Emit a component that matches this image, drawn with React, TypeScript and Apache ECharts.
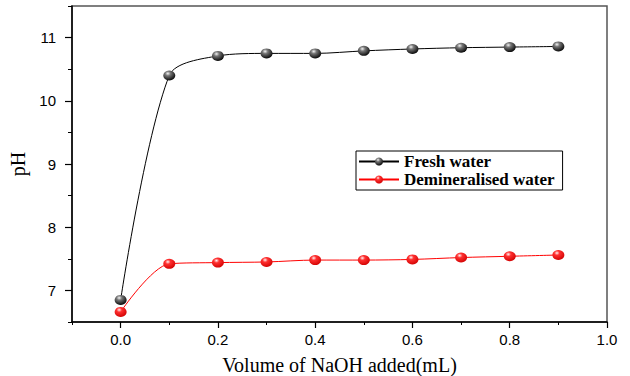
import React, { useEffect, useRef } from "react";
import * as echarts from "echarts";

// NaOH volume added (mL)
const volumes = [0.0, 0.1, 0.2, 0.3, 0.4, 0.5, 0.6, 0.7, 0.8, 0.9];
// pH readings
const freshWater = [6.85, 10.4, 10.71, 10.75, 10.75, 10.79, 10.82, 10.84, 10.85, 10.86];
const demineralisedWater = [6.66, 7.42, 7.44, 7.45, 7.48, 7.48, 7.49, 7.52, 7.54, 7.56];

const xMajorTicks = [0.0, 0.2, 0.4, 0.6, 0.8, 1.0];
const yMajorTicks = [7, 8, 9, 10, 11];

const seriesNames = ["Fresh water", "Demineralised water"];

const sphere = (light: string, mid: string, dark: string) =>
  new echarts.graphic.RadialGradient(0.38, 0.3, 0.75, [
    { offset: 0, color: light },
    { offset: 0.3, color: mid },
    { offset: 1, color: dark },
  ]);

export default function App() {
  const ref = useRef<HTMLDivElement>(null);

  useEffect(() => {
    if (!ref.current) return;
    const chart = echarts.init(ref.current, null, { renderer: "svg" });
    const tickFont = { fontFamily: "Liberation Sans", fontSize: 15, color: "#000" };

    chart.setOption({
      animation: false,
      backgroundColor: "#fff",
      grid: {
        left: 72,
        right: 23,
        top: 6,
        bottom: 54,
        outerBoundsMode: "none",
        containLabel: false,
        show: true,
        borderColor: "#555",
        borderWidth: 1.5,
      },
      legend: {
        orient: "vertical",
        left: 356,
        top: 151,
        itemGap: 1,
        itemWidth: 40,
        itemHeight: 10,
        padding: [2, 8, 2, 2],
        borderColor: "#000",
        borderWidth: 1,
        textStyle: {
          fontFamily: "Liberation Serif",
          fontWeight: "bold",
          fontSize: 17,
          color: "#000",
        },
        data: seriesNames,
      },
      xAxis: [
        {
          type: "value",
          min: -0.1,
          max: 1.0,
          name: "Volume of NaOH added(mL)",
          nameLocation: "middle",
          nameGap: 33,
          nameTextStyle: { fontFamily: "Liberation Serif", fontSize: 20, color: "#000" },
          axisLine: { onZero: false, lineStyle: { color: "#000", width: 1.5 } },
          axisTick: { customValues: xMajorTicks, length: 6, lineStyle: { color: "#000", width: 1.2 } },
          axisLabel: {
            customValues: xMajorTicks,
            margin: 10,
            formatter: (v: number) => v.toFixed(1),
            ...tickFont,
          },
          splitLine: { show: false },
        },
        {
          type: "value",
          min: -0.1,
          max: 1.0,
          interval: 0.1,
          position: "bottom",
          axisLine: { show: false, onZero: false },
          axisTick: { length: 3, lineStyle: { color: "#000", width: 1 } },
          axisLabel: { show: false },
          splitLine: { show: false },
        },
      ],
      yAxis: [
        {
          type: "value",
          min: 6.5,
          max: 11.5,
          name: "pH",
          nameLocation: "middle",
          nameGap: 39,
          nameTextStyle: { fontFamily: "Liberation Serif", fontSize: 20, color: "#000" },
          axisLine: { onZero: false, lineStyle: { color: "#000", width: 1.5 } },
          axisTick: { customValues: yMajorTicks, length: 7, lineStyle: { color: "#000", width: 1.2 } },
          axisLabel: {
            customValues: yMajorTicks,
            margin: 16,
            ...tickFont,
          },
          splitLine: { show: false },
        },
        {
          type: "value",
          min: 6.5,
          max: 11.5,
          interval: 0.5,
          position: "left",
          axisLine: { show: false, onZero: false },
          axisTick: { length: 4, lineStyle: { color: "#000", width: 1 } },
          axisLabel: { show: false },
          splitLine: { show: false },
        },
      ],
      series: [
        {
          name: seriesNames[0],
          type: "line",
          smooth: 0.3,
          data: volumes.map((v, i) => [v, freshWater[i]]),
          lineStyle: { color: "#000", width: 1 },
          symbol: "circle",
          symbolSize: [12, 10],
          itemStyle: { color: sphere("#f4f4f4", "#777", "#000"), borderWidth: 0 },
          z: 3,
        },
        {
          name: seriesNames[1],
          type: "line",
          smooth: 0.3,
          data: volumes.map((v, i) => [v, demineralisedWater[i]]),
          lineStyle: { color: "#ff0000", width: 1 },
          symbol: "circle",
          symbolSize: [12, 10],
          itemStyle: { color: sphere("#fff4f4", "#ff3030", "#d00000"), borderWidth: 0 },
          z: 3,
        },
      ],
    });

    return () => chart.dispose();
  }, []);

  return (
    <div
      ref={ref}
      style={{ position: "fixed", left: 0, top: 0, width: 630, height: 376 }}
    />
  );
}
